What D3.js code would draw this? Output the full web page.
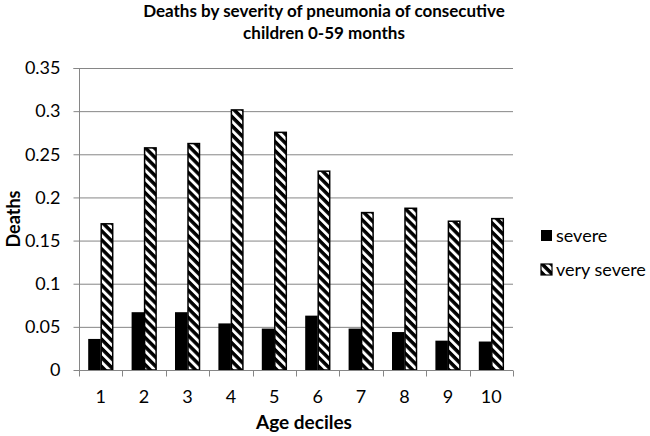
<!DOCTYPE html>
<html><head><meta charset="utf-8">
<script src="https://cdn.jsdelivr.net/npm/d3@7"></script>
<style>body{margin:0;background:#fff}svg{display:block}text{font-family:Lato,"Open Sans",sans-serif;fill:#000}</style>
</head><body>
<script>
const categories = ["1","2","3","4","5","6","7","8","9","10"];
const severe = [0.036,0.067,0.067,0.054,0.048,0.063,0.048,0.044,0.034,0.033];
const verySevere = [0.170,0.258,0.263,0.302,0.276,0.231,0.183,0.188,0.173,0.176];
const seriesNames = ["severe","very severe"];
const yTicks = [0,0.05,0.1,0.15,0.2,0.25,0.3,0.35];

const W=650,H=436;
const m={left:79,right:137,top:68,bottom:66};
const svg=d3.select("body").append("svg").attr("width",W).attr("height",H);
const defs=svg.append("defs");
const P=6.4;
const pat=defs.append("pattern").attr("id","hatch").attr("patternUnits","userSpaceOnUse")
  .attr("width",P).attr("height",P).attr("patternTransform","rotate(45)");
pat.append("rect").attr("width",P).attr("height",P).attr("fill","#fff");
pat.append("rect").attr("width",P).attr("height",P*0.55).attr("fill","#000");

const x=d3.scaleBand().domain(categories).range([m.left,W-m.right]);
const y=d3.scaleLinear().domain([0,0.35]).range([H-m.bottom,m.top]);

// gridlines
svg.append("g").selectAll("line").data(yTicks.slice(1)).join("line")
  .attr("x1",m.left).attr("x2",W-m.right).attr("y1",d=>y(d)+0.5).attr("y2",d=>y(d)+0.5)
  .attr("stroke","#868686").attr("stroke-width",1);

const bw=12.5;
const g=svg.append("g");
categories.forEach((c,i)=>{
  const cx=x(c)+x.bandwidth()/2;
  g.append("rect").attr("x",cx-bw).attr("y",y(severe[i])).attr("width",bw).attr("height",y(0)-y(severe[i])).attr("fill","#000");
  g.append("rect").attr("x",cx+0.5).attr("y",y(verySevere[i])+0.5).attr("width",bw-1).attr("height",y(0)-y(verySevere[i])-0.5)
    .attr("fill","url(#hatch)").attr("stroke","#000").attr("stroke-width",1.5);
});

// y axis
const ya=svg.append("g").attr("transform",`translate(${m.left+0.5},0)`)
  .call(d3.axisLeft(y).tickValues(yTicks).tickFormat(d=>d===0?"0":String(+d.toFixed(2))).tickSize(6).tickPadding(13));
ya.select(".domain").attr("stroke","#868686").attr("d",`M-6,${y(0.35)+0.5}H0V${y(0)+0.5}`);
ya.selectAll(".tick line").attr("stroke","#868686");
ya.selectAll(".tick text").attr("font-size",18).attr("font-family","Lato,'Open Sans',sans-serif");

// x axis
const xa=svg.append("g").attr("transform",`translate(0,${y(0)+0.5})`);
xa.append("line").attr("x1",m.left).attr("x2",W-m.right).attr("stroke","#868686");
xa.selectAll(".tk").data(d3.range(11)).join("line").attr("class","tk")
  .attr("x1",i=>Math.round(m.left+i*x.step())+0.5).attr("x2",i=>Math.round(m.left+i*x.step())+0.5)
  .attr("y1",0).attr("y2",6).attr("stroke","#868686");
xa.selectAll("text").data(categories).join("text")
  .attr("x",d=>x(d)+x.bandwidth()/2).attr("y",32).attr("text-anchor","middle").attr("font-size",18).text(d=>d);

// titles
svg.append("text").attr("x",324).attr("y",17).attr("text-anchor","middle").attr("font-size",17).attr("font-weight","bold")
  .text("Deaths by severity of pneumonia of consecutive");
svg.append("text").attr("x",324).attr("y",39).attr("text-anchor","middle").attr("font-size",17).attr("font-weight","bold")
  .text("children 0-59 months");
svg.append("text").attr("x",304).attr("y",429).attr("text-anchor","middle").attr("font-size",19).attr("font-weight","bold").text("Age deciles");
svg.append("text").attr("transform","translate(20,219) rotate(-90)").attr("text-anchor","middle").attr("font-size",18).attr("font-weight","bold").text("Deaths");

// legend
const lg=svg.append("g");
const fills=["#000","url(#hatch)"];
seriesNames.forEach((s,i)=>{
  const ly=230+i*34;
  lg.append("rect").attr("x",541).attr("y",ly).attr("width",11).attr("height",11)
    .attr("fill",fills[i]).attr("stroke","#000").attr("stroke-width",i?1.2:0);
  lg.append("text").attr("x",556).attr("y",ly+12).attr("font-size",18).text(s);
});
</script>
</body></html>
